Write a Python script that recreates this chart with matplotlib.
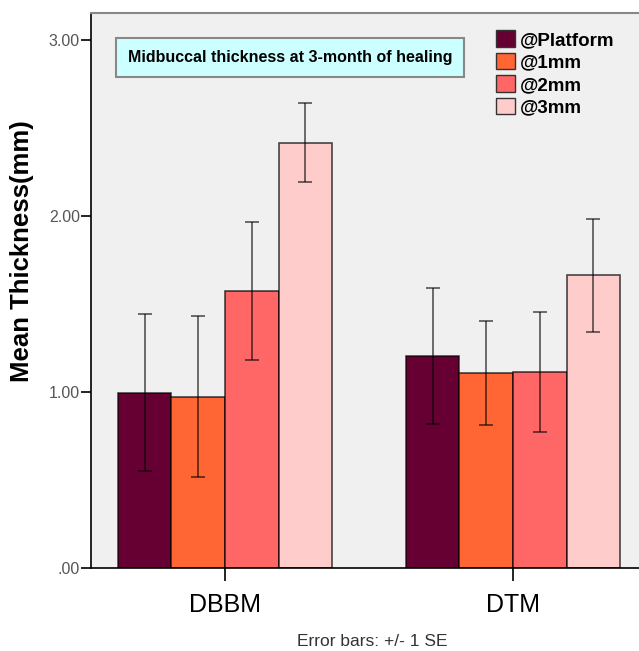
import matplotlib.pyplot as plt
from matplotlib.patches import Patch
import numpy as np

plt.rcParams['font.family'] = ['Liberation Sans', 'DejaVu Sans']

groups = ['DBBM', 'DTM']
series = ['@Platform', '@1mm', '@2mm', '@3mm']
colors = ['#660033', '#FF6633', '#FF6666', '#FFCCCC']
# mean thickness per series, one value per group
means = [[0.995, 1.205],
         [0.973, 1.108],
         [1.572, 1.114],
         [2.417, 1.663]]
# standard errors
se = [[0.446, 0.385],
      [0.458, 0.295],
      [0.393, 0.340],
      [0.224, 0.320]]

fig = plt.figure(figsize=(6.39, 6.51), dpi=100)
ax = fig.add_axes([91/639, 83/651, 548/639, 555.5/651])
ax.set_facecolor('#F0F0F0')

x = np.arange(len(groups))
w = 0.186
for i in range(len(series)):
    pos = x + (i - 1.5) * w
    ax.bar(pos, means[i], w, color=colors[i], edgecolor=(0, 0, 0, 0.7), linewidth=1.2, zorder=2)
    ax.errorbar(pos, means[i], yerr=se[i], fmt='none', ecolor=(0, 0, 0, 0.65),
                elinewidth=1.2, capsize=5, capthick=1.2, zorder=3)

ax.set_xlim(-0.465, 1.4375)
ax.set_ylim(0, 3.156)
ax.set_xticks(x)
ax.set_xticklabels(groups, fontsize=18)
ax.set_yticks([0, 1, 2, 3])
ax.set_yticklabels(['.00', '1.00', '2.00', '3.00'], fontsize=11.5, color='#555555')
ax.tick_params(axis='x', length=9, width=1.2, pad=9)
ax.tick_params(axis='y', length=7, width=1.2, pad=1)
ax.set_ylabel('Mean Thickness(mm)', fontsize=18.5, fontweight='bold')
ax.yaxis.set_label_coords(-0.104, 0.571)

ax.spines['right'].set_visible(False)
ax.spines['top'].set_color('#888888')
ax.spines['top'].set_linewidth(1.5)
ax.spines['left'].set_linewidth(1.2)
ax.spines['bottom'].set_linewidth(1.2)

ax.text(0.226, 2.903, 'Midbuccal thickness at 3-month of healing', fontsize=11.5, fontweight='bold',
        ha='center', va='center',
        bbox=dict(boxstyle='square,pad=0.75', facecolor='#CCFFFF', edgecolor='#888888', linewidth=1.5))

handles = [Patch(facecolor=c, edgecolor='#333333', linewidth=1) for c in colors]
leg = ax.legend(handles, series, loc='upper left', bbox_to_anchor=(0.725, 0.982), frameon=False,
                prop={'size': 13.5, 'weight': 'bold'}, handlelength=1.0, handleheight=1.0,
                handletextpad=0.3, labelspacing=0.2, borderaxespad=0)

fig.text(372/639, 1 - 641/651, 'Error bars: +/- 1 SE', fontsize=12.5, color='#333333', ha='center', va='center')

plt.savefig('out.png', dpi=100)
